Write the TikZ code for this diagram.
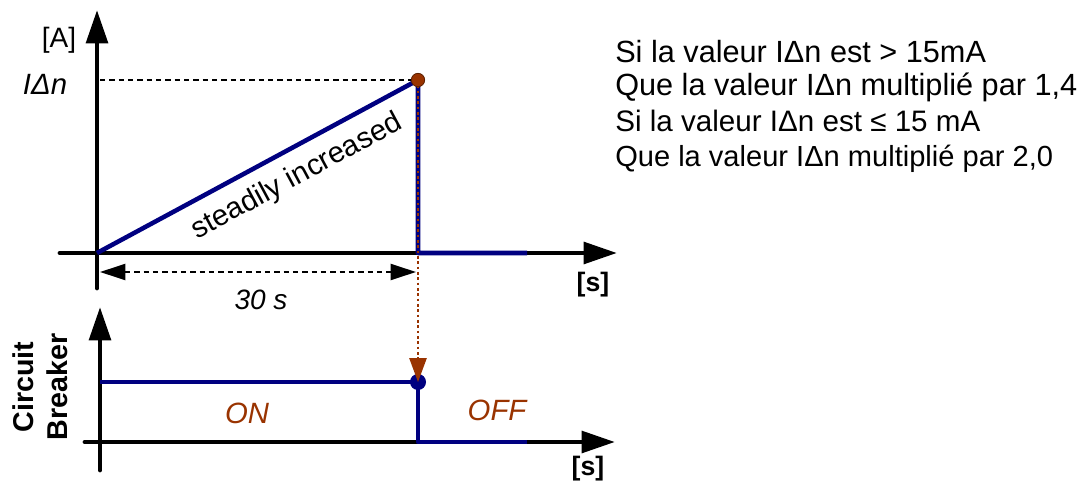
\documentclass[tikz,border=0pt]{standalone}
\usepackage{fontspec}
\setmainfont{Liberation Sans}
\usetikzlibrary{arrows.meta, positioning, calc}

\definecolor{curveblue}{RGB}{0,0,128}
\definecolor{markbrown}{RGB}{153,51,0}

\begin{document}
\begin{tikzpicture}[
  x=0.75pt, y=-0.75pt,
  axis/.style={line width=3.6pt, line cap=round, -{Triangle[length=25pt, width=16pt]}},
  signal/.style={curveblue, line width=3.4pt, line join=round},
  guide/.style={line width=1.5pt, dash pattern=on 4pt off 3pt},
  span/.style={guide, {Triangle[length=19pt, width=12pt]}-{Triangle[length=19pt, width=12pt]}},
  trip/.style={markbrown, line width=1.2pt, dash pattern=on 2pt off 2pt, -{Triangle[length=18pt, width=13pt]}},
  dot/.style={circle, inner sep=0pt, minimum size=#1},
  lbl/.style={font=\fontsize{21}{24}\selectfont},
  unit/.style={font=\bfseries\fontsize{20}{24}\selectfont},
  state/.style={markbrown, font=\itshape\fontsize{22}{26}\selectfont},
  side/.style={rotate=90, font=\bfseries\fontsize{21.5}{26}\selectfont},
  info/.style={anchor=base west, inner sep=0pt}
]
\useasboundingbox (0,0) rectangle (1080,484);

% current axes
\coordinate (ybot1) at (97,288);
\coordinate (ytop1) at (97,10);
\coordinate (xleft1) at (60,253);
\coordinate (xright1) at (617,253);
\coordinate (orig1) at (97,253);
\coordinate (drop1) at (418,253);
\coordinate (end1) at (527,253);
\coordinate (ilevel) at (100,80);
\coordinate (spanL) at (100,272);
\coordinate (spanR) at (416,272);

% breaker axes
\coordinate (ybot2) at (100,470);
\coordinate (ytop2) at (100,307);
\coordinate (xleft2) at (85,442);
\coordinate (xright2) at (615,442);
\coordinate (onstart) at (100,382);
\coordinate (drop2) at (418,442);
\coordinate (end2) at (527,442);

\draw[axis] (ybot1) -- (ytop1);
\draw[axis] (xleft1) -- (xright1);
\draw[axis] (ybot2) -- (ytop2);
\draw[axis] (xleft2) -- (xright2);

\node[dot=10pt] (peak) at (418,80) {};
\node[dot=12pt, fill=curveblue] (tripdot) at (418,382) {};

\draw[guide] (ilevel) -- (peak);
\draw[signal] (orig1) -- (peak.center) -- (drop1) -- (end1);
\draw[signal] (onstart) -- (tripdot.center) -- (drop2) -- (end2);
\draw[span] (spanL) -- (spanR);
\draw[trip] (peak.center) -- (tripdot.center);
\node[dot=10pt, fill=markbrown, draw=markbrown!60!black, line width=0.6pt] at (peak) {};

\node[lbl] (unitA) at (59,40) {[A]};
\node[lbl, font=\itshape\fontsize{22}{26}\selectfont] (idn) at (45,84) {IΔn};
\node[unit] (unitS1) at (593,285) {[s]};
\node[unit] (unitS2) at (588,469) {[s]};
\node[lbl, font=\itshape\fontsize{21}{24}\selectfont] (dur) at (261,300) {30 s};
\node[lbl, font=\fontsize{22}{26}\selectfont, rotate=28.3] (ramp) at (297,177) {steadily increased};
\node[state] (on) at (247,413) {ON};
\node[state] (off) at (497,410) {OFF};
\node[side] (cb1) at (23,387) {Circuit};
\node[side] (cb2) at (57,387) {Breaker};

\node[info, font=\fontsize{23}{26}\selectfont] (rule1) at (615,63) {Si la valeur IΔn est > 15mA};
\node[info, font=\fontsize{23}{26}\selectfont] (rule2) at (615,96) {Que la valeur IΔn multiplié par 1,4};
\node[info, font=\fontsize{22.2}{26}\selectfont] (rule3) at (615,132) {Si la valeur IΔn est ≤ 15 mA};
\node[info, font=\fontsize{21.8}{26}\selectfont] (rule4) at (615,167) {Que la valeur IΔn multiplié par 2,0};
\end{tikzpicture}
\end{document}
